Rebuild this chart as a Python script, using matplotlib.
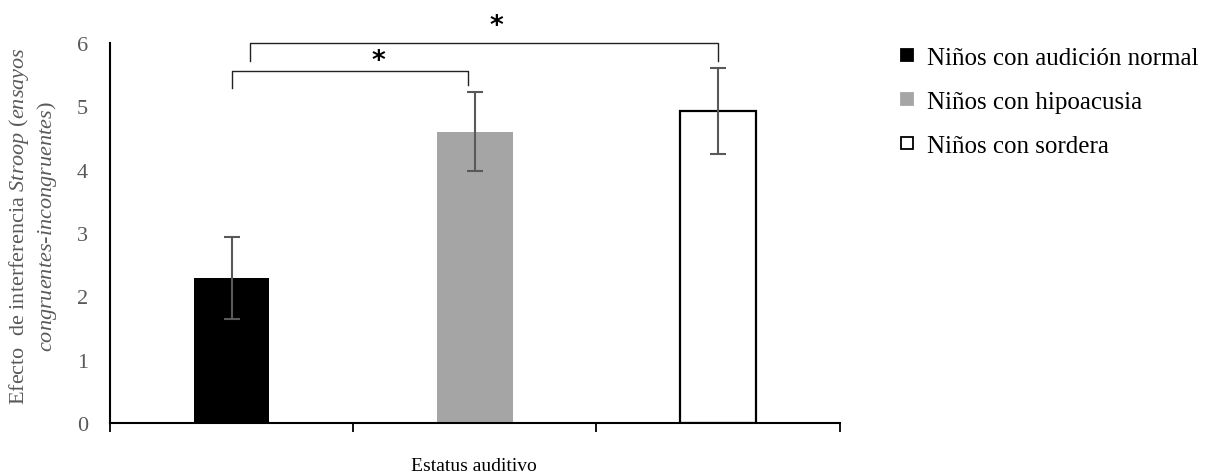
import matplotlib.pyplot as plt
from matplotlib.lines import Line2D

plt.rcParams['font.family'] = ['Liberation Serif', 'DejaVu Serif']
plt.rcParams['mathtext.fontset'] = 'custom'
plt.rcParams['mathtext.rm'] = 'Liberation Serif'
plt.rcParams['mathtext.it'] = 'Liberation Serif:italic'

# datos
grupos = ['Niños con audición normal', 'Niños con hipoacusia', 'Niños con sordera']
medias = [2.29, 4.60, 4.93]
errores = [0.64, 0.62, 0.68]
colores = ['black', '#a5a5a5', 'white']
bordes = ['black', '#a5a5a5', 'black']
yticks = [0, 1, 2, 3, 4, 5, 6]

fig = plt.figure(figsize=(12.05, 4.77), dpi=100)
ax = fig.add_axes([0.0913, 0.111, 0.6055, 0.797])

x = list(range(len(grupos)))
for i in x:
    ax.bar(i, medias[i], width=0.31, color=colores[i], edgecolor=bordes[i],
           linewidth=1.6 if i == 2 else 0, zorder=2)
ax.errorbar(x, medias, yerr=errores, fmt='none', ecolor='#595959',
            elinewidth=1.5, capsize=6, capthick=1.5, zorder=3)

# corchetes de significancia
ax.plot([0, 0, 0.97, 0.97], [5.29, 5.56, 5.56, 5.34], color='#222222',
        linewidth=1.0, clip_on=False)
ax.plot([0.074, 0.074, 2.0, 2.0], [5.72, 6.0, 6.0, 5.72], color='#222222',
        linewidth=1.0, clip_on=False)
ax.text(0.605, 5.72, '*', fontsize=19, fontweight='bold', ha='center',
        va='center', family='DejaVu Sans', clip_on=False)
ax.text(1.09, 6.27, '*', fontsize=19, fontweight='bold', ha='center',
        va='center', family='DejaVu Sans', clip_on=False)

ax.set_xlim(-0.5, 2.5)
ax.set_ylim(0, 6)
ax.set_yticks(yticks)
ax.set_xticks([-0.5, 0.5, 1.5, 2.5])
ax.set_xticklabels([])
ax.tick_params(axis='y', length=0, labelsize=16, labelcolor='#595959', pad=16)
ax.tick_params(axis='x', length=6.5, width=1.3, direction='out')
for s in ['top', 'right']:
    ax.spines[s].set_visible(False)
ax.spines['left'].set_linewidth(1.5)
ax.spines['bottom'].set_linewidth(1.5)

ax.set_ylabel('Efecto  de interferencia $\\mathit{Stroop}$ ($\\mathit{ensayos}$\n'
              '$\\mathit{congruentes}$-$\\mathit{incongruentes}$)',
              fontsize=16, color='#595959', linespacing=1.25)
ax.yaxis.set_label_coords(-0.070, 0.52)
fig.text(474 / 1205, 1 - 467 / 477, 'Estatus auditivo', fontsize=14,
         ha='center', va='center')

handles = [Line2D([], [], linestyle='none', marker='s', markersize=8.5,
                  markerfacecolor=colores[i], markeredgecolor=bordes[i],
                  markeredgewidth=1.3) for i in x]
fig.legend(handles, grupos, loc='upper left', bbox_to_anchor=(0.7465, 0.901),
           frameon=False, fontsize=18, handlelength=0.6, handletextpad=0.5,
           labelspacing=0.86, borderpad=0, borderaxespad=0)

fig.savefig('out.png', dpi=100)
